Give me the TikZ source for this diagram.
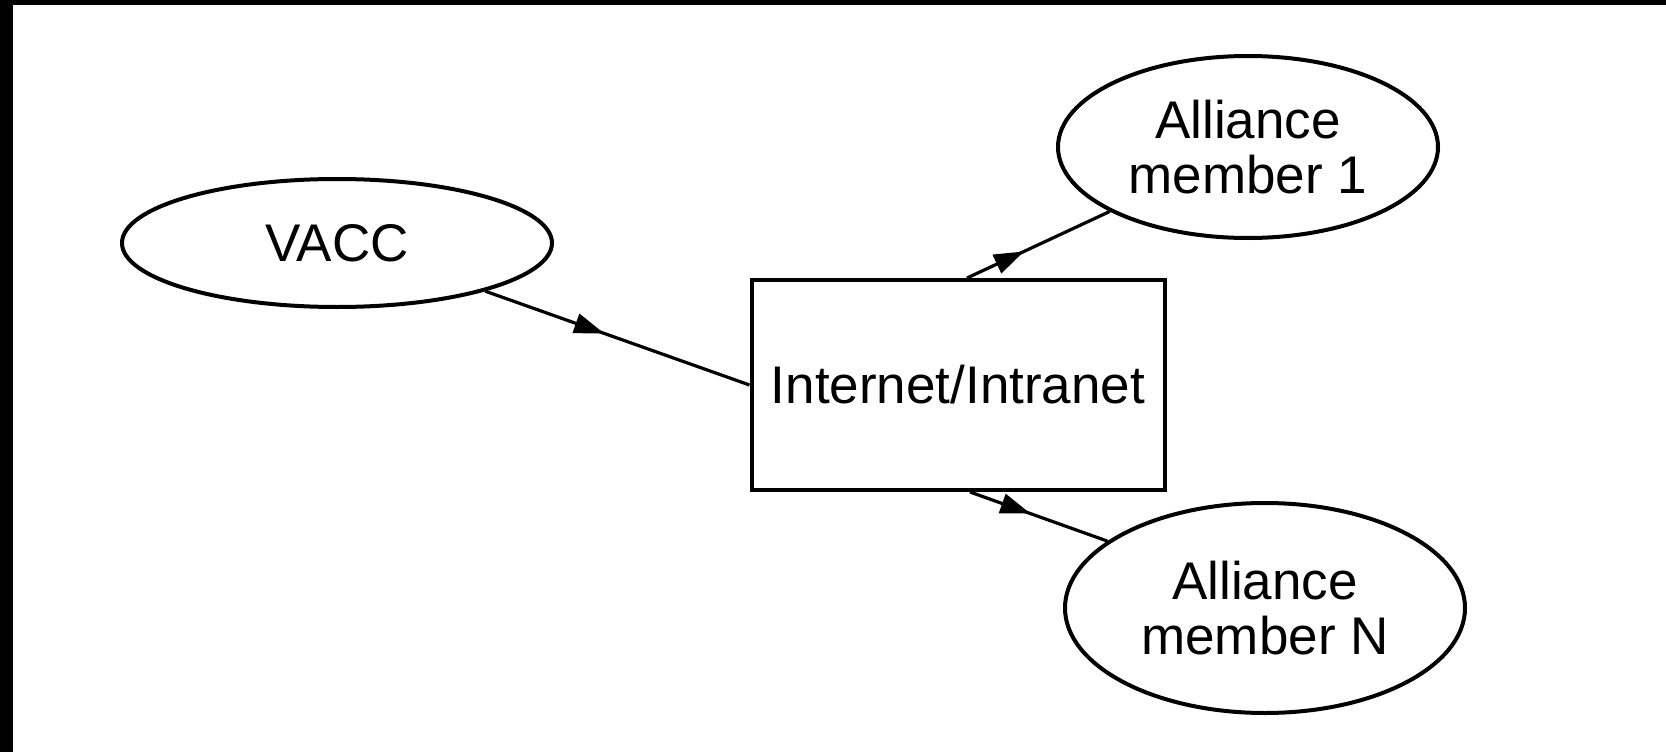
\documentclass[tikz,border=0pt]{standalone}
\usepackage{fontspec}
\setmainfont{Liberation Sans}
\usetikzlibrary{shapes.geometric,arrows.meta,decorations.markings}
\tikzset{
  bubble/.style={draw=black, line width=4pt, ellipse, inner sep=0pt, align=center,
    font=\fontsize{53}{55}\selectfont},
  netbox/.style={draw=black, line width=4pt, rectangle, inner sep=0pt, align=center,
    minimum width=413pt, minimum height=210pt, font=\fontsize{53}{55}\selectfont},
  link/.style={draw=black, line width=3.2pt, postaction={decorate},
    decoration={markings, mark=at position #1 with {\arrow{Triangle[length=30pt,width=20pt]}}}},
}
\begin{document}
\begin{tikzpicture}[x=1pt,y=-1pt]
\useasboundingbox (0,0) rectangle (1666,752);
\fill[white] (0,0) rectangle (1666,752);
\fill[black] (0,0) rectangle (1666,5);
\fill[black] (0,0) rectangle (13,752);

\node[bubble, minimum width=430pt, minimum height=128pt] (vacc) at (337,243) {VACC};
\node[netbox] (net) at (958,385) {Internet/Intranet};
\node[bubble, minimum width=380pt, minimum height=182pt] (m1) at (1248,147) {Alliance\\member 1};
\node[bubble, minimum width=400pt, minimum height=210pt] (mn) at (1265,608) {Alliance\\member N};

\draw[link=0.45] (vacc.-18.5) -- (net.west);
\draw[link=0.40] ([xshift=9pt]net.north) -- (m1.205);
\draw[link=0.44] ([xshift=12pt]net.south) -- (mn.157);
\end{tikzpicture}
\end{document}
